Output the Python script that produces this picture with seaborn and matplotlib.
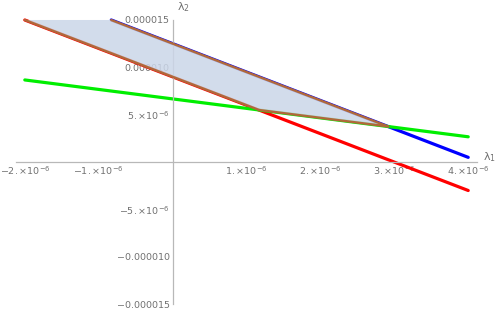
import matplotlib
matplotlib.use('Agg')
import matplotlib.pyplot as plt
from matplotlib.ticker import MultipleLocator, FixedLocator
import pandas as pd
import seaborn as sns

red_x = [-2e-6, 4e-6]
red_y = [15e-6, -3e-6]
blue_x = [-0.83e-6, 4e-6]
blue_y = [15e-6, 0.5e-6]
green_x = [-2e-6, 4e-6]
green_y = [8.67e-6, 2.67e-6]

# shaded region (corners)
region_x = [-2e-6, -0.83e-6, 2.92e-6, 1.17e-6]
region_y = [15e-6, 15e-6, 3.75e-6, 5.5e-6]

x_ticks = [-2e-6, -1e-6, 1e-6, 2e-6, 3e-6, 4e-6]
x_labels = [r'$-2.{\times}10^{-6}$', r'$-1.{\times}10^{-6}$',
            r'$1.{\times}10^{-6}$', r'$2.{\times}10^{-6}$',
            r'$3.{\times}10^{-6}$', r'$4.{\times}10^{-6}$']
y_ticks = [-15e-6, -10e-6, -5e-6, 5e-6, 10e-6, 15e-6]
y_labels = ['\u22120.000015', '\u22120.000010', r'$-5.{\times}10^{-6}$',
            r'$5.{\times}10^{-6}$', '0.000010', '0.000015']

sns.set_theme(style='white')
plt.rcParams['font.family'] = ['DejaVu Sans']
plt.rcParams['mathtext.fontset'] = 'dejavusans'
plt.rcParams['mathtext.default'] = 'regular'

AXIS = '#b8b8b8'
LABEL = '#707070'

fig = plt.figure(figsize=(4.98, 3.12), dpi=100)
ax = fig.add_axes([0.032, 0.019, 0.926, 0.923])

lines = pd.concat([
    pd.DataFrame({'x': red_x, 'y': red_y, 'name': 'red'}),
    pd.DataFrame({'x': blue_x, 'y': blue_y, 'name': 'blue'}),
    pd.DataFrame({'x': green_x, 'y': green_y, 'name': 'green'}),
])
sns.lineplot(data=lines, x='x', y='y', hue='name', sort=False, ax=ax,
             palette={'red': '#ff0000', 'blue': '#0000ff', 'green': '#00ee00'},
             linewidth=2.3, legend=False, estimator=None)

ax.fill(region_x, region_y, color='#cbd6e8', alpha=0.85, lw=0, zorder=3)
bx = [region_x[1], region_x[2], region_x[3], region_x[0]]
by = [region_y[1], region_y[2], region_y[3], region_y[0]]
ax.plot(bx, by, color='#b0683a', lw=1.7, zorder=4, solid_joinstyle='round')

ax.set_xlim(-2.12e-6, 4.12e-6)
ax.set_ylim(-15.2e-6, 15.2e-6)

for s in ['top', 'right']:
    ax.spines[s].set_visible(False)
ax.spines['left'].set_position(('data', 0))
ax.spines['bottom'].set_position(('data', 0))
ax.spines['left'].set_bounds(-15e-6, 15e-6)
for s in ['left', 'bottom']:
    ax.spines[s].set_color(AXIS)
    ax.spines[s].set_linewidth(0.9)

ax.xaxis.set_major_locator(FixedLocator(x_ticks))
ax.set_xticklabels(x_labels)
ax.xaxis.set_minor_locator(MultipleLocator(0.2e-6))
ax.yaxis.set_major_locator(FixedLocator(y_ticks))
ax.set_yticklabels(y_labels)
ax.yaxis.set_minor_locator(MultipleLocator(1e-6))

ax.tick_params(axis='both', which='major', direction='in', length=4, width=0.7,
               color=AXIS, labelsize=6.8, labelcolor=LABEL, pad=2)
ax.tick_params(axis='both', which='minor', direction='in', length=2, width=0.6,
               color=AXIS)

ax.set_xlabel('')
ax.set_ylabel('')
ax.text(4.2e-6, 0.5e-6, r'$\lambda_1$', color=LABEL, fontsize=8, va='center',
        ha='left', clip_on=False)
ax.text(0.06e-6, 15.6e-6, r'$\lambda_2$', color=LABEL, fontsize=8, va='bottom',
        ha='left', clip_on=False)
ax.grid(False)

fig.savefig('out.png', dpi=100)
